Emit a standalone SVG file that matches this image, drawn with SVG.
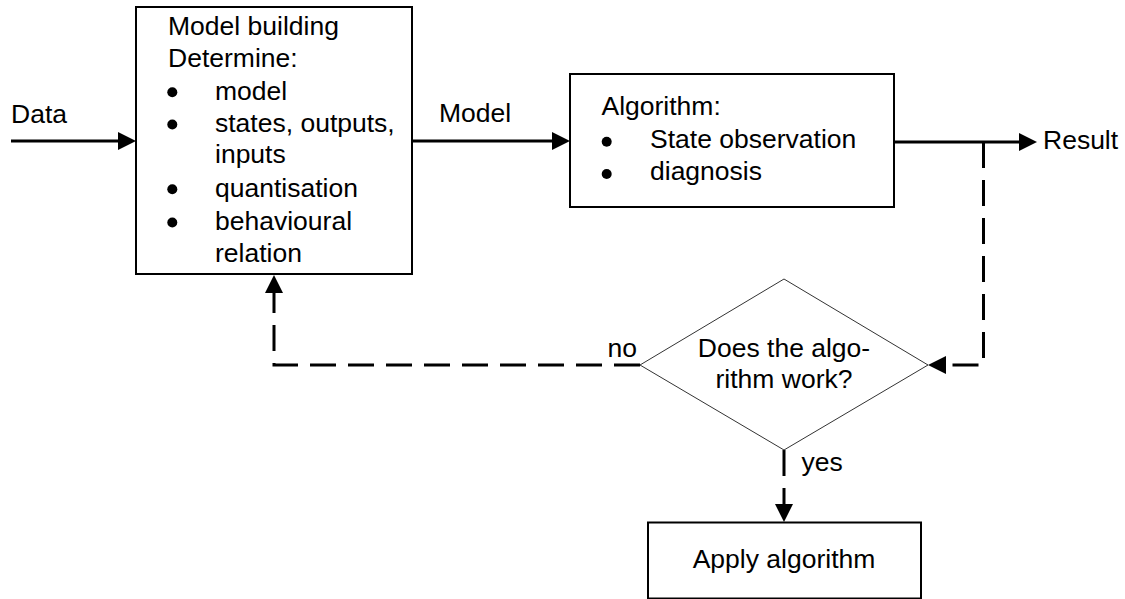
<svg xmlns="http://www.w3.org/2000/svg" width="1125" height="599" viewBox="0 0 1125 599">
<style>
text{font-family:"Liberation Sans",Arial,sans-serif;font-size:26.5px;fill:#000}
.box{fill:#fff;stroke:#000;stroke-width:2}
.dia{fill:#fff;stroke:#333;stroke-width:1}
.wire{fill:none;stroke:#000;stroke-width:3}
.dash{fill:none;stroke:#000;stroke-width:3;stroke-dasharray:26 12}
.bullet{fill:#000}
</style>
<defs>
<marker id="arr" markerUnits="userSpaceOnUse" markerWidth="18" markerHeight="18" refX="10" refY="9" orient="auto">
<path d="M0,0 L18,9 L0,18 z" fill="#000"/>
</marker>
</defs>
<rect width="1125" height="599" fill="#fff"/>
<g id="connectors">
<line class="wire" x1="11" y1="141" x2="128" y2="141" marker-end="url(#arr)"/>
<line class="wire" x1="412" y1="141" x2="562" y2="141" marker-end="url(#arr)"/>
<line class="wire" x1="894" y1="142" x2="1029" y2="142" marker-end="url(#arr)"/>
<path class="dash" d="M983.5,142 V365 H936" marker-end="url(#arr)"/>
<path class="dash" d="M640,365 H274 V283" marker-end="url(#arr)"/>
<path class="dash" d="M784,450 V514" marker-end="url(#arr)"/>
<text x="11" y="122.5">Data</text>
<text x="439" y="121.5">Model</text>
<text x="1043" y="148.5">Result</text>
<text x="637" y="357" text-anchor="end">no</text>
<text x="801.5" y="471">yes</text>
</g>
<g id="model-building">
<rect class="box" x="136" y="7" width="276" height="267"/>
<text x="168" y="35">Model building</text>
<text x="168" y="66.5">Determine:</text>
<circle class="bullet" cx="172.3" cy="92.3" r="5"/>
<text x="215" y="100">model</text>
<circle class="bullet" cx="172.3" cy="124.5" r="5"/>
<text x="215" y="131.5">states, outputs,</text>
<text x="215" y="163">inputs</text>
<circle class="bullet" cx="172.3" cy="189.3" r="5"/>
<text x="215" y="196.5">quantisation</text>
<circle class="bullet" cx="172.3" cy="222.5" r="5"/>
<text x="215" y="230">behavioural</text>
<text x="215" y="261.5">relation</text>
</g>
<g id="algorithm">
<rect class="box" x="570" y="74" width="324" height="133"/>
<text x="601.5" y="115">Algorithm:</text>
<circle class="bullet" cx="606.7" cy="141.7" r="5"/>
<text x="650" y="148.3">State observation</text>
<circle class="bullet" cx="606.7" cy="174" r="5"/>
<text x="650" y="180">diagnosis</text>
</g>
<g id="decision">
<polygon class="dia" points="784,279 928,365 784,450 640,365"/>
<text x="784" y="357.3" text-anchor="middle">Does the algo-</text>
<text x="784" y="388.3" text-anchor="middle">rithm work?</text>
</g>
<g id="apply">
<rect class="box" x="648" y="522.5" width="273" height="76"/>
<text x="784" y="568.3" text-anchor="middle">Apply algorithm</text>
</g>
</svg>
